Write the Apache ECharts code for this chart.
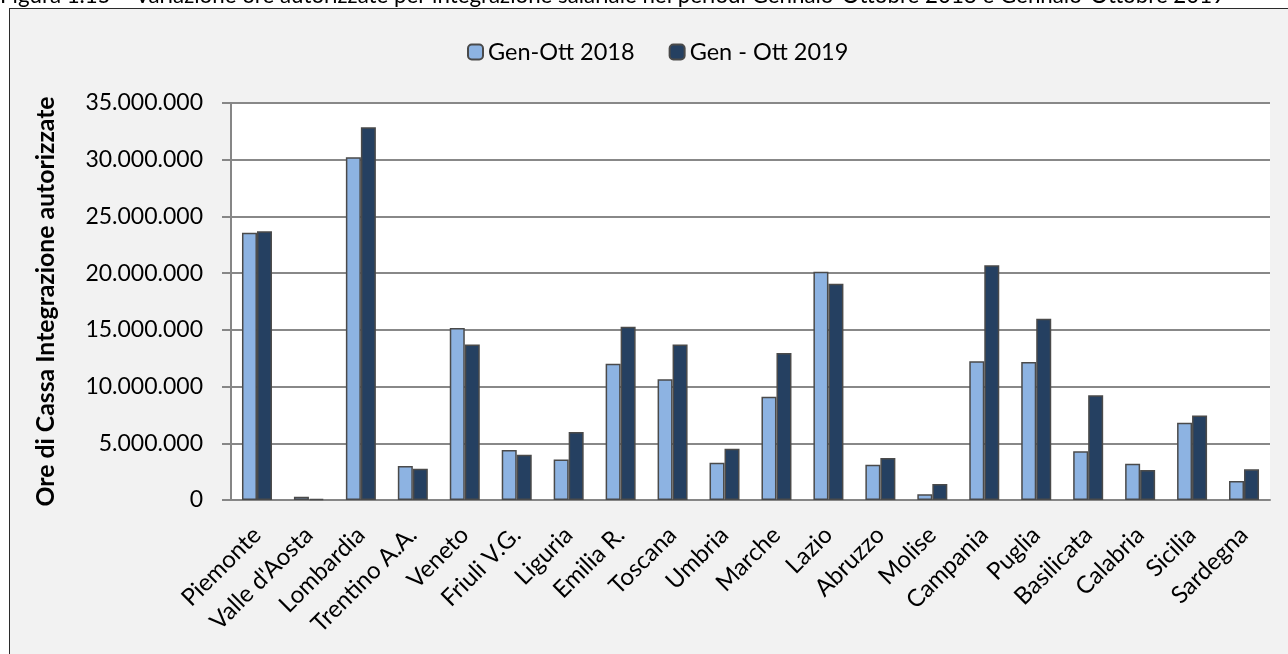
<!DOCTYPE html>
<html>
<head>
<meta charset="utf-8">
<script src="https://cdn.jsdelivr.net/npm/echarts@6/dist/echarts.min.js"></script>
<style>
  html, body { margin: 0; padding: 0; background: #ffffff; }
  #wrap { position: relative; width: 1288px; height: 654px; overflow: hidden; }
  #frame { position: absolute; left: 9px; top: 8px; width: 1290px; height: 660px;
           background: #f2f2f2; border-left: 1.5px solid #2b2b2b; border-top: 1.5px solid #2b2b2b; box-sizing: border-box; }
  #chart { position: absolute; left: 0; top: 0; width: 1288px; height: 654px; }
</style>
</head>
<body>
<div id="wrap">
  <div id="frame"></div>
  <div id="chart"></div>
</div>
<script>
// Regions and authorised hours of wage integration (Cassa Integrazione)
const regioni = ['Piemonte', "Valle d'Aosta", 'Lombardia', 'Trentino A.A.', 'Veneto', 'Friuli V.G.',
  'Liguria', 'Emilia R.', 'Toscana', 'Umbria', 'Marche', 'Lazio', 'Abruzzo', 'Molise',
  'Campania', 'Puglia', 'Basilicata', 'Calabria', 'Sicilia', 'Sardegna'];

const ore2018 = [23570000, 290000, 30210000, 3000000, 15160000, 4410000, 3560000, 12020000,
  10640000, 3290000, 9110000, 20130000, 3110000, 500000, 12230000, 12170000, 4290000,
  3200000, 6820000, 1680000];

const ore2019 = [23690000, 110000, 32860000, 2760000, 13720000, 4000000, 6000000, 15280000,
  13720000, 4520000, 12960000, 19070000, 3700000, 1410000, 20690000, 15990000, 9230000,
  2640000, 7460000, 2700000];

const serieNomi = ['Gen-Ott 2018', 'Gen - Ott 2019'];
const yTicks = [0, 5000000, 10000000, 15000000, 20000000, 25000000, 30000000, 35000000];
const titolo = 'Figura 1.15 \u2013 Variazione ore autorizzate per integrazione salariale nei periodi Gennaio-Ottobre 2018 e Gennaio-Ottobre 2019';

const FONT = 'Lato, "Open Sans", sans-serif';
const fmtIt = v => String(Math.round(v)).replace(/\B(?=(\d{3})+(?!\d))/g, '.');

const chart = echarts.init(document.getElementById('chart'), null, { renderer: 'canvas' });
chart.setOption({
  backgroundColor: 'transparent',
  textStyle: { fontFamily: FONT, color: '#000' },
  graphic: [{
    type: 'text', left: 0, top: -15, silent: true,
    style: { text: titolo, font: '22.3px ' + FONT, fill: '#000' }
  }],
  legend: {
    top: 35, left: 462, itemWidth: 15, itemHeight: 15, itemGap: 34,
    textStyle: { fontSize: 23.5, color: '#000', fontFamily: FONT },
    data: serieNomi
  },
  grid: {
    left: 231, right: 18, top: 103, bottom: 154,
    show: true, backgroundColor: '#ffffff', borderWidth: 0
  },
  xAxis: {
    type: 'category', data: regioni,
    axisLine: { lineStyle: { color: '#868686', width: 2 } },
    axisTick: { show: false },
    axisLabel: { interval: 0, rotate: 45, fontSize: 24, color: '#000', margin: 31, fontFamily: FONT }
  },
  yAxis: {
    type: 'value', min: yTicks[0], max: yTicks[yTicks.length - 1], interval: yTicks[1] - yTicks[0],
    name: 'Ore di Cassa Integrazione autorizzate', nameLocation: 'middle', nameGap: 172,
    nameTextStyle: { fontSize: 24.8, fontWeight: 'bold', color: '#000', fontFamily: FONT },
    axisLine: { show: true, lineStyle: { color: '#868686', width: 2 } },
    axisTick: { show: true, length: 9, lineStyle: { color: '#868686', width: 2 } },
    splitLine: { lineStyle: { color: '#888888', width: 2 } },
    axisLabel: { fontSize: 23, color: '#000', margin: 28, formatter: fmtIt, fontFamily: FONT }
  },
  series: [
    {
      name: serieNomi[0], type: 'bar', data: ore2018, barWidth: 15, barGap: '0%',
      itemStyle: { color: '#8db3e2', borderColor: '#4a4a4a', borderWidth: 1.5 }
    },
    {
      name: serieNomi[1], type: 'bar', data: ore2019, barWidth: 15,
      itemStyle: { color: '#254061', borderColor: '#4a4a4a', borderWidth: 1.5 }
    }
  ]
});
</script>
</body>
</html>
